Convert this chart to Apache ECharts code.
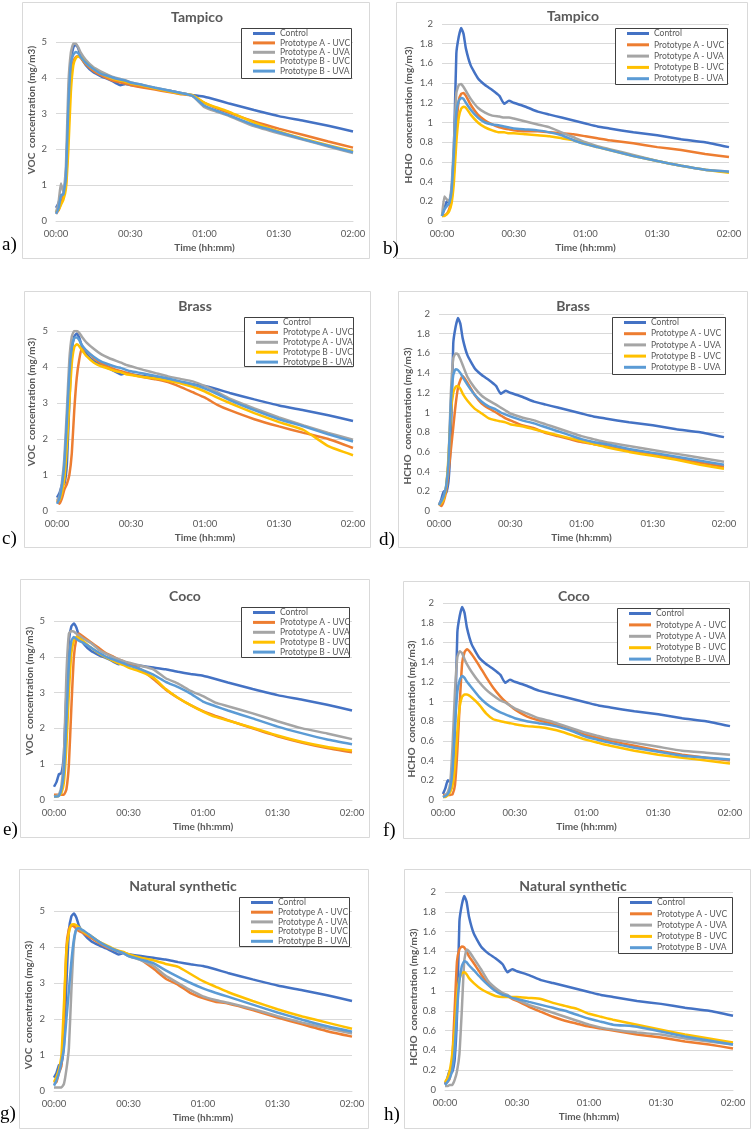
<!DOCTYPE html>
<html><head><meta charset="utf-8">
<script src="https://cdn.jsdelivr.net/npm/echarts@6/dist/echarts.min.js"></script>
<style>html,body{margin:0;padding:0;background:#fff}#c{width:752px;height:1133px}</style>
</head><body><div id="c"></div>
<script>
// ---- DATA (time in minutes) ----
const T = [0,1,2,3,4,5,6,7,8,9,10,12,15,18,21,24,26,28,30,35,40,45,50,55,60,65,70,80,90,100,110,120];
const seriesNames = ['Control','Prototype A - UVC','Prototype A - UVA','Prototype B - UVC','Prototype B - UVA'];
const xTickLabels = ['00:00','00:30','01:00','01:30','02:00'];
const panelTitles = ['Tampico','Tampico','Brass','Brass','Coco','Coco','Natural synthetic','Natural synthetic'];
const panelLetters = ['a)','b)','c)','d)','e)','f)','g)','h)'];

const controlVOC  = [0.37,0.5,0.72,0.75,1.3,3.0,4.45,4.85,4.93,4.82,4.6, 4.36,4.16,4.05,3.96,3.86,3.79,3.83,3.8, 3.75,3.7,3.65,3.58,3.52,3.47,3.38,3.28, 3.1,2.93,2.8,2.66,2.5];
const controlHCHO = [0.06,0.12,0.2,0.18,0.3,0.75,1.7,1.87,1.96,1.9,1.75, 1.58,1.45,1.38,1.33,1.27,1.19,1.22,1.2, 1.16,1.11,1.08,1.05,1.02,0.99,0.96,0.94, 0.9,0.87,0.83,0.8,0.75];

const tampicoVOC_AUVC = [0.2,0.3,0.5,0.7,1.0,2.5,4.0,4.45,4.58,4.6,4.55, 4.38,4.2,4.08,3.98,3.9,3.87,3.84,3.8, 3.73,3.67,3.61,3.55,3.5,3.3,3.15,3.02, 2.78,2.58,2.4,2.22,2.05];
const tampicoVOC_AUVA = [0.25,0.5,1.05,0.8,1.5,3.8,4.7,4.95,4.95,4.85,4.7, 4.5,4.3,4.18,4.08,4.0,3.97,3.93,3.88, 3.8,3.72,3.65,3.58,3.5,3.18,3.05,2.93, 2.65,2.45,2.27,2.08,1.9];
const tampicoVOC_BUVC = [0.25,0.3,0.45,0.6,0.9,2.0,3.6,4.35,4.55,4.6,4.58, 4.42,4.25,4.12,4.03,3.95,3.92,3.89,3.85, 3.78,3.7,3.63,3.56,3.52,3.3,3.17,3.05, 2.75,2.5,2.3,2.12,1.95];
const tampicoVOC_BUVA = [0.2,0.35,0.7,0.75,1.2,3.2,4.4,4.65,4.72,4.68,4.58, 4.42,4.25,4.12,4.05,3.98,3.95,3.92,3.87, 3.8,3.72,3.65,3.58,3.5,3.22,3.08,2.95, 2.68,2.48,2.28,2.1,1.92];

const tampicoHCHO_AUVC = [0.05,0.06,0.07,0.12,0.22,0.5,0.95,1.22,1.29,1.3,1.27, 1.18,1.08,1.02,0.98,0.95,0.94,0.93,0.92, 0.91,0.91,0.9,0.89,0.88,0.86,0.84,0.82, 0.79,0.75,0.72,0.68,0.65];
const tampicoHCHO_AUVA = [0.05,0.25,0.22,0.2,0.35,0.8,1.3,1.38,1.39,1.36,1.32, 1.24,1.15,1.1,1.07,1.06,1.05,1.05,1.04, 1.01,0.98,0.95,0.9,0.85,0.8,0.76,0.73, 0.67,0.61,0.56,0.52,0.5];
const tampicoHCHO_BUVC = [0.05,0.05,0.07,0.1,0.18,0.4,0.8,1.05,1.14,1.16,1.15, 1.08,1.0,0.95,0.92,0.9,0.9,0.89,0.89, 0.88,0.87,0.86,0.84,0.82,0.78,0.75,0.72, 0.66,0.61,0.56,0.52,0.49];
const tampicoHCHO_BUVA = [0.05,0.12,0.15,0.18,0.3,0.7,1.1,1.22,1.25,1.24,1.2, 1.13,1.05,1.0,0.98,0.97,0.96,0.95,0.94, 0.93,0.92,0.9,0.87,0.82,0.78,0.75,0.72, 0.66,0.61,0.56,0.52,0.5];

const brassVOC_AUVC = [0.3,0.2,0.35,0.6,0.75,1.0,1.6,2.8,3.7,4.2,4.5, 4.45,4.25,4.1,4.0,3.92,3.88,3.84,3.8, 3.72,3.66,3.58,3.45,3.3,3.15,2.95,2.8, 2.55,2.35,2.17,2.0,1.75];
const brassVOC_AUVA = [0.3,0.4,0.8,1.5,2.8,4.2,4.85,5.0,5.0,4.95,4.85, 4.68,4.5,4.35,4.25,4.17,4.12,4.06,4.02, 3.92,3.83,3.74,3.67,3.6,3.47,3.3,3.12, 2.85,2.6,2.38,2.17,1.98];
const brassVOC_BUVC = [0.25,0.3,0.5,0.9,1.8,3.0,4.1,4.55,4.63,4.58,4.48, 4.3,4.12,4.02,3.95,3.88,3.85,3.8,3.78, 3.72,3.68,3.62,3.55,3.45,3.32,3.15,3.0, 2.72,2.47,2.25,1.8,1.55];
const brassVOC_BUVA = [0.2,0.35,0.7,1.3,2.5,3.8,4.55,4.8,4.82,4.75,4.62, 4.45,4.28,4.15,4.07,4.0,3.97,3.92,3.88, 3.82,3.75,3.68,3.6,3.52,3.4,3.25,3.08, 2.8,2.55,2.35,2.13,1.93];

const brassHCHO_AUVC = [0.07,0.05,0.1,0.2,0.4,0.62,0.85,1.08,1.25,1.33,1.37, 1.3,1.18,1.09,1.04,1.0,0.97,0.94,0.92, 0.87,0.84,0.79,0.76,0.73,0.7,0.68,0.66, 0.61,0.57,0.53,0.49,0.45];
const brassHCHO_AUVA = [0.07,0.1,0.15,0.25,0.5,1.2,1.55,1.6,1.59,1.54,1.48, 1.36,1.25,1.17,1.12,1.08,1.05,1.02,0.99, 0.95,0.92,0.88,0.84,0.8,0.76,0.73,0.7, 0.66,0.62,0.58,0.54,0.5];
const brassHCHO_BUVC = [0.06,0.08,0.12,0.25,0.55,1.0,1.2,1.26,1.27,1.24,1.19, 1.12,1.04,0.99,0.94,0.92,0.91,0.9,0.88, 0.86,0.83,0.8,0.77,0.74,0.71,0.68,0.65, 0.6,0.56,0.52,0.47,0.43];
const brassHCHO_BUVA = [0.06,0.1,0.15,0.25,0.5,1.1,1.38,1.44,1.43,1.4,1.36, 1.28,1.18,1.11,1.06,1.03,1.0,0.98,0.96, 0.92,0.89,0.85,0.81,0.77,0.73,0.7,0.68, 0.63,0.59,0.55,0.51,0.47];

const cocoVOC_AUVC = [0.15,0.15,0.15,0.15,0.15,0.3,1.0,2.6,4.0,4.5,4.65, 4.55,4.4,4.25,4.1,4.0,3.93,3.88,3.8, 3.65,3.38,3.08,2.85,2.65,2.48,2.35,2.23, 2.0,1.78,1.6,1.45,1.33];
const cocoVOC_AUVA = [0.1,0.12,0.15,0.4,1.2,3.5,4.65,4.72,4.7,4.65,4.6, 4.5,4.38,4.2,4.08,3.98,3.93,3.88,3.84, 3.75,3.65,3.4,3.25,3.05,2.9,2.72,2.62, 2.42,2.2,2.0,1.86,1.7];
const cocoVOC_BUVC = [0.1,0.1,0.12,0.2,0.5,1.5,3.0,4.1,4.45,4.55,4.52, 4.42,4.25,4.1,3.98,3.88,3.82,3.77,3.7, 3.58,3.42,3.1,2.85,2.65,2.47,2.32,2.22, 2.02,1.8,1.62,1.48,1.38];
const cocoVOC_BUVA = [0.1,0.1,0.12,0.3,0.8,2.2,3.8,4.45,4.55,4.5,4.45, 4.38,4.25,4.12,4.0,3.92,3.87,3.82,3.76, 3.65,3.5,3.3,3.15,2.97,2.75,2.62,2.5, 2.28,2.05,1.86,1.69,1.56];

const cocoHCHO_AUVC = [0.05,0.05,0.05,0.05,0.06,0.15,0.5,0.98,1.39,1.5,1.53, 1.48,1.37,1.25,1.14,1.05,1.0,0.96,0.92, 0.85,0.81,0.78,0.74,0.7,0.66,0.63,0.6, 0.55,0.5,0.46,0.43,0.4];
const cocoHCHO_AUVA = [0.03,0.05,0.08,0.17,0.55,1.1,1.45,1.51,1.49,1.43,1.38, 1.3,1.2,1.12,1.06,1.01,0.99,0.96,0.93, 0.88,0.83,0.8,0.76,0.72,0.68,0.65,0.62, 0.58,0.54,0.5,0.48,0.46];
const cocoHCHO_BUVC = [0.03,0.03,0.05,0.08,0.15,0.35,0.7,0.95,1.05,1.07,1.07, 1.04,0.97,0.88,0.82,0.8,0.79,0.78,0.77, 0.75,0.74,0.72,0.69,0.65,0.61,0.58,0.55, 0.5,0.46,0.43,0.4,0.37];
const cocoHCHO_BUVA = [0.03,0.04,0.06,0.12,0.3,0.75,1.1,1.22,1.26,1.24,1.2, 1.14,1.05,0.98,0.93,0.89,0.87,0.85,0.83, 0.8,0.78,0.76,0.73,0.69,0.64,0.61,0.58, 0.53,0.49,0.45,0.43,0.41];

const natVOC_AUVC = [0.2,0.25,0.5,0.7,2.0,4.0,4.5,4.6,4.58,4.5,4.45, 4.38,4.25,4.12,4.0,3.92,3.88,3.84,3.78, 3.65,3.4,3.12,2.95,2.72,2.58,2.48,2.43, 2.25,2.04,1.85,1.66,1.51];
const natVOC_AUVA = [0.1,0.1,0.1,0.1,0.2,0.6,1.2,2.8,4.1,4.5,4.5, 4.42,4.3,4.15,4.03,3.93,3.88,3.82,3.75, 3.63,3.48,3.2,3.0,2.8,2.63,2.53,2.45, 2.28,2.08,1.9,1.74,1.6];
const natVOC_BUVC = [0.25,0.4,0.6,1.0,2.4,3.9,4.4,4.62,4.63,4.6,4.55, 4.42,4.3,4.15,4.05,3.95,3.9,3.86,3.8, 3.7,3.63,3.53,3.45,3.25,3.05,2.9,2.75, 2.5,2.27,2.07,1.9,1.73];
const natVOC_BUVA = [0.15,0.3,0.5,0.8,1.2,2.0,2.8,3.6,4.2,4.5,4.53, 4.45,4.3,4.15,4.03,3.93,3.88,3.83,3.75, 3.65,3.55,3.35,3.17,3.0,2.85,2.73,2.62, 2.4,2.18,1.98,1.8,1.65];

const natHCHO_AUVC = [0.06,0.08,0.12,0.3,0.8,1.3,1.42,1.45,1.44,1.4,1.35, 1.28,1.17,1.07,1.01,0.97,0.95,0.92,0.9, 0.84,0.79,0.74,0.7,0.67,0.64,0.62,0.6, 0.56,0.53,0.49,0.46,0.42];
const natHCHO_AUVA = [0.04,0.04,0.05,0.05,0.1,0.19,0.36,0.8,1.3,1.42,1.4, 1.33,1.22,1.1,1.03,0.98,0.96,0.93,0.91, 0.86,0.82,0.78,0.74,0.7,0.66,0.63,0.61, 0.58,0.56,0.52,0.49,0.46];
const natHCHO_BUVC = [0.08,0.12,0.2,0.36,0.6,0.95,1.12,1.18,1.19,1.17,1.13, 1.08,1.02,0.98,0.95,0.94,0.94,0.94,0.94, 0.93,0.92,0.88,0.85,0.82,0.77,0.74,0.71, 0.66,0.61,0.56,0.52,0.48];
const natHCHO_BUVA = [0.05,0.08,0.12,0.2,0.4,0.8,1.1,1.25,1.3,1.29,1.26, 1.21,1.13,1.06,1.0,0.96,0.95,0.93,0.92, 0.89,0.86,0.83,0.8,0.76,0.72,0.69,0.66, 0.64,0.59,0.54,0.5,0.46];

const panelSeries = [
  [controlVOC, tampicoVOC_AUVC, tampicoVOC_AUVA, tampicoVOC_BUVC, tampicoVOC_BUVA],
  [controlHCHO, tampicoHCHO_AUVC, tampicoHCHO_AUVA, tampicoHCHO_BUVC, tampicoHCHO_BUVA],
  [controlVOC, brassVOC_AUVC, brassVOC_AUVA, brassVOC_BUVC, brassVOC_BUVA],
  [controlHCHO, brassHCHO_AUVC, brassHCHO_AUVA, brassHCHO_BUVC, brassHCHO_BUVA],
  [controlVOC, cocoVOC_AUVC, cocoVOC_AUVA, cocoVOC_BUVC, cocoVOC_BUVA],
  [controlHCHO, cocoHCHO_AUVC, cocoHCHO_AUVA, cocoHCHO_BUVC, cocoHCHO_BUVA],
  [controlVOC, natVOC_AUVC, natVOC_AUVA, natVOC_BUVC, natVOC_BUVA],
  [controlHCHO, natHCHO_AUVC, natHCHO_AUVA, natHCHO_BUVC, natHCHO_BUVA]
];
const panelKinds = ['VOC','HCHO','VOC','HCHO','VOC','HCHO','VOC','HCHO'];

// ---- LAYOUT (pixels) ----
const layout = [
  {box:[22,2,347,256],  grid:[56,42,353,221],   title:[197,17],  leg:[241,28,110,50],  row:9.4,  yName:[32,110],  lab:[2,245]},
  {box:[396,2,351,256], grid:[442,24,729,221],  title:[573,16],  leg:[615,28,112,56],  row:11.3, yName:[409,115], lab:[383,249]},
  {box:[24,291,346,256],grid:[57,331,353,511],  title:[195,306], leg:[244,317,109,49], row:9.9,  yName:[32,402],  lab:[2,539]},
  {box:[398,291,349,256],grid:[439,314,724,511],title:[573,306], leg:[612,317,113,57], row:11.2, yName:[408,416], lab:[379,540]},
  {box:[20,579,349,258],grid:[54,621,352,800],  title:[185,596], leg:[241,607,108,50], row:9.9,  yName:[30,691],  lab:[3,830]},
  {box:[403,581,346,257],grid:[443,603,730,800],title:[574,596], leg:[617,608,112,56], row:11.4, yName:[412,709], lab:[383,831]},
  {box:[19,869,349,259],grid:[54,911,352,1091], title:[183,886], leg:[239,897,110,49], row:9.7,  yName:[29,1005], lab:[0,1114]},
  {box:[404,869,346,259],grid:[445,892,733,1090],title:[573,886],leg:[618,897,114,56], row:11.3, yName:[414,997], lab:[384,1115]}
];
const colors = ['#4472C4','#ED7D31','#A5A5A5','#FFC000','#5B9BD5'];
const FONT = 'Lato, "Open Sans", sans-serif';
const TXT = '#595959';

const grids=[], xAxes=[], yAxes=[], legends=[], series=[], graphics=[];
layout.forEach((L,p)=>{
  const isVOC = panelKinds[p]==='VOC';
  graphics.push({type:'rect', shape:{x:L.box[0]+0.5,y:L.box[1]+0.5,width:L.box[2],height:L.box[3]}, style:{fill:'none',stroke:'#D9D9D9',lineWidth:1}, z:0});
  graphics.push({type:'rect', shape:{x:L.leg[0]+0.5,y:L.leg[1]+0.5,width:L.leg[2],height:L.leg[3]}, style:{fill:'#fff',stroke:'#404040',lineWidth:1}, z:5});
  graphics.push({type:'text', x:L.title[0], y:L.title[1], style:{text:panelTitles[p], fill:TXT, font:'bold 14px '+FONT, align:'center', verticalAlign:'middle'}, z:6});
  graphics.push({type:'text', x:L.yName[0], y:L.yName[1], rotation:Math.PI/2, style:{text:(isVOC?'VOC  concentration (mg/m3)':'HCHO  concentration (mg/m3)'), fill:TXT, font:'bold 10px '+FONT, align:'center', verticalAlign:'middle'}, z:6});
  graphics.push({type:'text', x:L.lab[0], y:L.lab[1], style:{text:panelLetters[p], fill:'#000', font:'19px "Liberation Serif", "Times New Roman", serif', align:'left', verticalAlign:'middle'}, z:6});
  const g = L.grid;
  grids.push({left:g[0], top:g[1], width:g[2]-g[0], height:g[3]-g[1], containLabel:false});
  xAxes.push({type:'value', gridIndex:p, min:0, max:120, interval:30,
    axisLine:{show:true, lineStyle:{color:'#D9D9D9', width:1}}, axisTick:{show:false}, splitLine:{show:false},
    axisLabel:{color:TXT, fontSize:9.5, fontFamily:FONT, margin:8, formatter:(v)=>xTickLabels[Math.round(v/30)]},
    name:'Time (hh:mm)', nameLocation:'middle', nameGap:22,
    nameTextStyle:{color:TXT, fontSize:10, fontWeight:'bold', fontFamily:FONT}});
  yAxes.push({type:'value', gridIndex:p, min:0, max:isVOC?5:2, interval:isVOC?1:0.2,
    axisLine:{show:false}, axisTick:{show:false},
    splitLine:{show:true, lineStyle:{color:'#D9D9D9', width:1}},
    axisLabel:{color:TXT, fontSize:9.5, fontFamily:FONT, margin:9}});
  legends.push({orient:'vertical', left:L.leg[0]+12, top:L.leg[1]+5.5-L.row/2, padding:0, itemGap:0,
    itemWidth:22, itemHeight:3, icon:'rect', selectedMode:false, data:seriesNames, z:7,
    textStyle:{color:TXT, fontSize:8.5, fontFamily:FONT, lineHeight:L.row}});
  panelSeries[p].forEach((arr,k)=>{
    series.push({type:'line', name:seriesNames[k], xAxisIndex:p, yAxisIndex:p,
      data:T.map((t,i)=>[t,arr[i]]), showSymbol:false, symbol:'none', smooth:0.15,
      lineStyle:{width:2.5, color:colors[k]}, itemStyle:{color:colors[k]}, z:2+k});
  });
});

const chart = echarts.init(document.getElementById('c'), null, {renderer:'canvas'});
chart.setOption({animation:false, backgroundColor:'#fff', grid:grids, xAxis:xAxes, yAxis:yAxes, legend:legends, series:series, graphic:graphics});
</script></body></html>
